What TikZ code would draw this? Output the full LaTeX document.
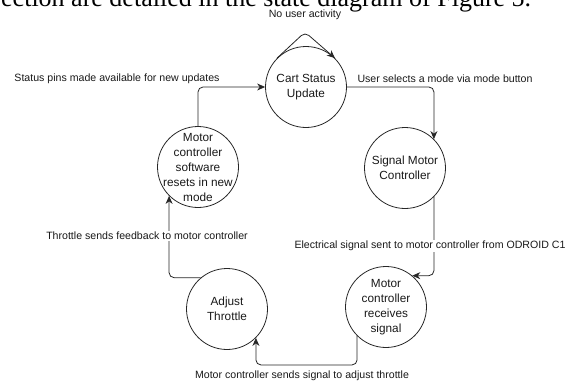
\documentclass[tikz,border=0pt]{standalone}
\usepackage{fontspec}
\setmainfont{Liberation Sans}
\newfontfamily\bodyserif{Liberation Serif}
\usetikzlibrary{arrows.meta,calc}
\begin{document}
\begin{tikzpicture}[x=1pt,y=-1pt,
  state/.style={circle,draw=black!85,line width=0.8pt,minimum size=81pt,inner sep=0pt},
  statetext/.style={align=center,inner sep=0pt,font=\fontsize{11.8}{15}\selectfont,text=black!90},
  flow/.style={draw=black!85,line width=0.8pt,rounded corners=5pt,-{Stealth[length=8pt,width=7pt]}},
  elabel/.style={font=\fontsize{10.6}{13}\selectfont,inner sep=1pt,text=black!90},
]
\useasboundingbox (0,0) rectangle (580,380);

% running text of the page, cut by the top edge
\begin{scope}
  \clip (0,0) rectangle (580,380);
  \node[anchor=base west,inner sep=0pt,font=\bodyserif\fontsize{26}{30}\selectfont] (bodyline) at (1,6)
    {ection are detailed in the state diagram of Figure 5.};
\end{scope}

% states
\node[state,label={[statetext]center:Cart Status\\Update}] (cart) at (306,87) {};
\node[state,label={[statetext]center:Signal Motor\\Controller}] (sig) at (405,168) {};
\node[state,label={[statetext]center:Motor\\controller\\receives\\signal}] (rec) at (386,307) {};
\node[state,label={[statetext]center:Adjust\\Throttle}] (adj) at (227,309) {};
\node[state,label={[statetext]center:Motor\\controller\\software\\resets in new\\mode}] (sw) at (198,167) {};

% transitions
\coordinate (peak) at ($(cart.north)+(-1,-14)$);
\draw[flow] (cart.135) -- (peak) -- (cart.45);
\draw[flow] (cart.east) -| (sig.45);
\draw[flow] (sig.-45) |- (rec.50);
\draw[flow] (rec.-135) -- ++(0,29) -| (adj.-45);
\draw[flow] (adj.130) -| (sw.-135);
\draw[flow] (sw.north) |- (cart.west);

% transition labels
\node[elabel] (lloop) at (305,15) {No user activity};
\node[elabel] (lpins) at (117,79) {Status pins made available for new updates};
\node[elabel] (lmode) at (445,79) {User selects a mode via mode button};
\node[elabel,fill=white] (lfeed) at (147,236) {Throttle sends feedback to motor controller};
\node[elabel,fill=white] (lelec) at (430,246) {Electrical signal sent to motor controller from ODROID C1};
\node[elabel] (lthr) at (302,376) {Motor controller sends signal to adjust throttle};
\end{tikzpicture}
\end{document}
